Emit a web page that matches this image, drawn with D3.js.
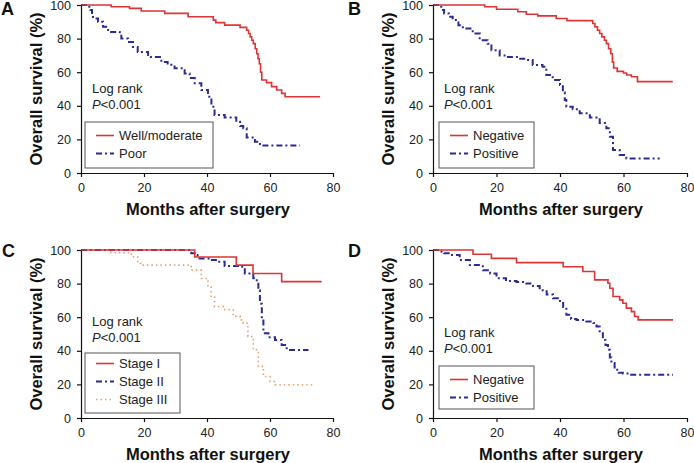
<!DOCTYPE html>
<html>
<head>
<meta charset="utf-8">
<script src="https://cdn.jsdelivr.net/npm/d3@7"></script>
<style>
  body { margin: 0; background: #fff; }
  text { font-family: Arial, "Liberation Sans", sans-serif; }
</style>
</head>
<body>
<div id="body"></div>
<script>
// Kaplan-Meier curves, [month, survival %], value holds until next point
var aWell = [[0,100],[9.6,99],[15.4,98],[19.1,96.4],[26.6,95],[34,93],[42,91],[42.8,89.5],[45.6,88],[50.5,86.7],[52.6,85],[53.2,83],[53.7,81],[54.2,79],[54.7,77],[55.3,74],[55.8,71],[56.2,68],[56.6,65],[57,60],[57.4,55.4],[58.9,53.8],[60.5,51.4],[62.1,49.4],[63.7,47.4],[64.8,45.4],[75.9,45.4]];
var aPoor = [[0,100],[2.2,99],[3,97],[3.5,94],[3.8,92],[5.4,90],[7,87],[8.6,84],[12.3,83],[12.8,80],[14.9,78],[16.5,75],[18,72],[21.3,69],[25.5,66],[27.5,64.5],[29.7,62.3],[32.9,59.3],[34.5,56.5],[36.1,53.4],[38.2,49.4],[40.3,45.4],[41.4,39.5],[42.4,34.5],[45.6,33.1],[49.3,30.5],[50.5,28],[51.5,26.6],[52.6,21.2],[55.2,18.6],[56.8,16.3],[69.5,16.3]];

var bNeg = [[0,100],[16.3,99],[20,97.5],[26.7,96],[29.4,94.5],[33,93.5],[38.8,92],[42.2,90.7],[50.3,89],[51,87],[51.8,85],[52.5,83],[53.2,81],[54,79],[54.6,77],[55.3,74],[56,71],[56.5,66],[56.9,62.5],[58,60.5],[60,59.5],[61,58.3],[62.5,57.3],[64.4,54.4],[75.5,54.4]];
var bPos = [[0,100],[2.6,97],[3.5,95],[5,93],[6.2,91],[8,88],[9.4,86],[12.5,83],[14.7,79],[17.2,77],[18.4,73],[21,70],[23.1,69],[27,68],[29.4,67.3],[31.4,64.3],[34.5,63.3],[35.7,58.3],[37.7,55.4],[40,52.4],[40.9,48],[41.5,43.5],[42,39.5],[44,38],[46.2,35.5],[49.4,33],[51.5,32],[52.5,29.7],[54.6,26.6],[55.7,21.6],[56.7,13.7],[58.8,10.7],[60.9,8.7],[71.4,8.7]];

var cStage1 = [[0,100],[36.1,95.8],[49.3,91],[54.6,86],[63.7,81.2],[76.4,81.2]];
var cStage2 = [[0,100],[35,98],[36.6,97],[37,95],[41,94],[43.5,93],[45.6,90.5],[50.5,90],[52,86],[54.7,83.2],[55.8,81.2],[56.3,76],[56.8,68],[57.4,58],[57.9,50.5],[59.5,48],[61.6,46.5],[63.7,43.5],[65.3,40.5],[72.2,40.5]];
var cStage3 = [[0,100],[9.5,98.4],[16,96],[18,92],[19,91],[35,88],[38.2,83],[40.3,78],[41.3,72],[42.4,66.3],[45.2,64.5],[48.3,60.5],[50.5,58.4],[51.5,56.4],[53,48.5],[54.7,40.6],[56.3,30.7],[57.9,24.7],[60,21.7],[61.6,19.8],[74,19.8]];

var dNeg = [[0,100],[12.6,97.5],[18.4,95],[26.3,92.5],[41,90],[47.2,87.2],[50.9,82.2],[55.1,80.2],[55.7,77.2],[56.7,72.3],[58.8,70.3],[59.8,68.3],[60.9,65.4],[62.5,63.3],[63.5,60.4],[64.6,58.4],[75.6,58.4]];
var dPos = [[0,100],[2.7,99],[3.5,98],[5.3,97],[8.4,94],[11.6,91],[15.7,88],[18,86],[20,83.2],[23,81.5],[26.3,81],[29.4,80],[31.5,78.5],[33.6,76],[35.8,73.5],[37.8,71.3],[40,68.5],[41,66],[42,61.4],[43.5,59],[45.2,58.4],[48.3,57.5],[50.5,56.5],[51.5,54.4],[52.5,50.5],[53.5,46.5],[54.3,43.5],[55.1,40.6],[55.7,36],[56.2,32.7],[57.2,28.7],[58.5,27],[59.8,26.5],[62,25.7],[75.6,25.7]];

// tick labels / texts
var xTicks = [0, 20, 40, 60, 80];
var yTicks = [0, 20, 40, 60, 80, 100];
var panelLetters = ["A", "B", "C", "D"];
var legendA = ["Well/moderate", "Poor"];
var legendB = ["Negative", "Positive"];
var legendC = ["Stage I", "Stage II", "Stage III"];
var legendD = ["Negative", "Positive"];

var width = 694;
var height = 463;

// line styles
var styles = {
    red:    {stroke: "#de3434", dash: null,      w: 1.6},
    blue:   {stroke: "#2b2b96", dash: "6,3,2,3", w: 2},
    orange: {stroke: "#e8a06e", dash: "1.5,3",   w: 1.6}
};

// panel layout (plot origin, size, legend box, log-rank text)
var panels = [
    {letter: panelLetters[0], left: 81,  top: 5,   w: 252, lx: 1,   ly: 15,  series: [aWell, aPoor], names: legendA, st: ["red","blue"],
     box: [4, 117, 128, 46], rows: [135, 153], logY: 88},
    {letter: panelLetters[1], left: 433, top: 5,   w: 254, lx: 348, ly: 15,  series: [bNeg, bPos], names: legendB, st: ["red","blue"],
     box: [6, 117, 95, 46], rows: [135, 153], logY: 88},
    {letter: panelLetters[2], left: 81,  top: 250, w: 252, lx: 2,   ly: 257, series: [cStage1, cStage2, cStage3], names: legendC, st: ["red","blue","orange"],
     box: [4, 103, 95, 60], rows: [118, 136, 154], logY: 76},
    {letter: panelLetters[3], left: 433, top: 250, w: 254, lx: 348, ly: 257, series: [dNeg, dPos], names: legendD, st: ["red","blue"],
     box: [6, 116, 95, 43], rows: [134, 152], logY: 87}
];
var plotH = 168;

var svg = d3.select("#body")
            .append("svg")
            .attr("width", width)
            .attr("height", height);

panels.forEach(function(p){
    var g = svg.append("g").attr("transform", "translate(" + p.left + "," + p.top + ")");

    var xScale = d3.scaleLinear().domain([0, 80]).range([0, p.w]);
    var yScale = d3.scaleLinear().domain([0, 100]).range([plotH, 0]);

    var line = d3.line()
                 .x(function(d){ return xScale(d[0]); })
                 .y(function(d){ return yScale(d[1]); })
                 .curve(d3.curveStepAfter);

    // curves (draw last series first so red stays on top)
    p.series.slice().reverse().forEach(function(s, j){
        var st = styles[p.st[p.series.length - 1 - j]];
        g.append("path")
         .attr("d", line(s))
         .attr("fill", "none")
         .attr("stroke", st.stroke)
         .attr("stroke-width", st.w)
         .attr("stroke-dasharray", st.dash);
    });

    // axes
    var xAxis = d3.axisBottom(xScale).tickValues(xTicks).tickSize(4).tickSizeOuter(0).tickPadding(6);
    var yAxis = d3.axisLeft(yScale).tickValues(yTicks).tickSize(4).tickSizeOuter(0).tickPadding(6);

    var gx = g.append("g").attr("transform", "translate(0," + plotH + ")").call(xAxis);
    var gy = g.append("g").call(yAxis);
    [gx, gy].forEach(function(a){
        a.selectAll("path, line").attr("stroke", "#111").attr("stroke-width", 1.2);
        a.selectAll("text").attr("font-size", "12.5px").attr("fill", "#222")
         .attr("font-family", "Arial, 'Liberation Sans', sans-serif");
    });

    // axis titles
    g.append("text")
     .attr("x", p.w / 2 + 1)
     .attr("y", plotH + 42)
     .attr("text-anchor", "middle")
     .attr("font-size", "16.5px")
     .attr("font-weight", "bold")
     .attr("fill", "#111")
     .text("Months after surgery");

    g.append("text")
     .attr("transform", "translate(-39," + (plotH / 2) + ") rotate(-90)")
     .attr("text-anchor", "middle")
     .attr("font-size", "16.5px")
     .attr("font-weight", "bold")
     .attr("fill", "#111")
     .text("Overall survival (%)");

    // panel letter
    svg.append("text")
       .attr("x", p.lx)
       .attr("y", p.ly)
       .attr("font-size", "18px")
       .attr("font-weight", "bold")
       .attr("fill", "#111")
       .text(p.letter);

    // log rank
    g.append("text").attr("x", 11).attr("y", p.logY)
     .attr("font-size", "13px").attr("fill", "#222").text("Log rank");
    var pt = g.append("text").attr("x", 11).attr("y", p.logY + 16)
              .attr("font-size", "13px").attr("fill", "#222");
    pt.append("tspan").attr("font-style", "italic").text("P");
    pt.append("tspan").text("<0.001");

    // legend
    g.append("rect")
     .attr("x", p.box[0]).attr("y", p.box[1])
     .attr("width", p.box[2]).attr("height", p.box[3])
     .attr("fill", "#fff").attr("stroke", "#555").attr("stroke-width", 1);

    p.names.forEach(function(name, i){
        var st = styles[p.st[i]];
        var ry = p.rows[i];
        g.append("line")
         .attr("x1", p.box[0] + 11).attr("x2", p.box[0] + 29)
         .attr("y1", ry - 4.5).attr("y2", ry - 4.5)
         .attr("stroke", st.stroke).attr("stroke-width", st.w)
         .attr("stroke-dasharray", st.dash);
        g.append("text")
         .attr("x", p.box[0] + 34).attr("y", ry)
         .attr("font-size", "13px").attr("fill", "#222")
         .text(name);
    });
});
</script>
</body>
</html>
